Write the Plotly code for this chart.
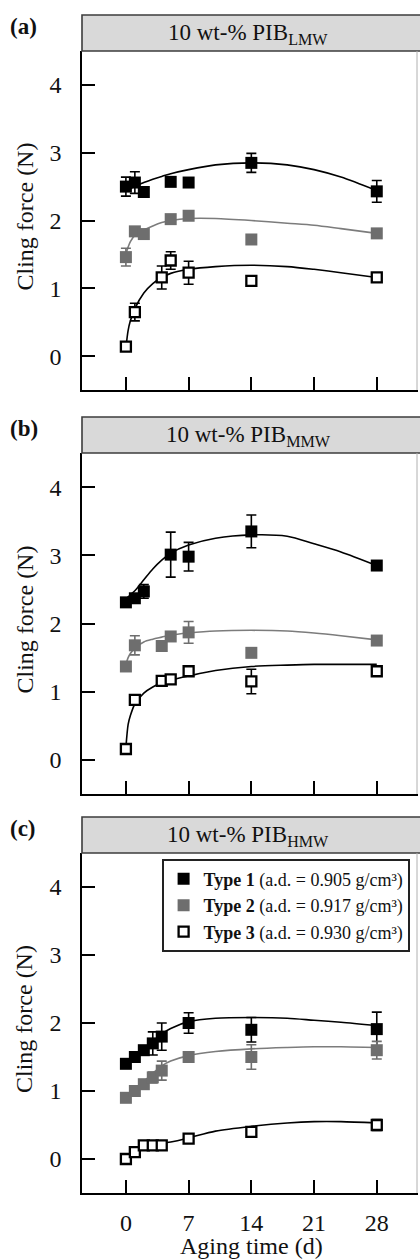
import plotly.graph_objects as go

FONT = "Liberation Serif, Times New Roman, Times, serif"
W, H = 420, 1260

# ---- data -----------------------------------------------------------------
X_TICKS = [0, 7, 14, 21, 28]
Y_TICKS = [0, 1, 2, 3, 4]
PANEL_LABELS = ["(a)", "(b)", "(c)"]
HEADERS = ["10 wt-% PIB<sub>LMW</sub>", "10 wt-% PIB<sub>MMW</sub>", "10 wt-% PIB<sub>HMW</sub>"]
TYPE_NAMES = [
    "<b>Type 1</b> (a.d. = 0.905 g/cm³)",
    "<b>Type 2</b> (a.d. = 0.917 g/cm³)",
    "<b>Type 3</b> (a.d. = 0.930 g/cm³)",
]

# panel (a): PIB LMW
A_T1_X = [0, 1, 2, 5, 7, 14, 28]
A_T1_Y = [2.50, 2.56, 2.42, 2.57, 2.56, 2.85, 2.43]
A_T1_E = [0.14, 0.16, 0.05, 0.05, 0.05, 0.14, 0.16]
A_T2_X = [0, 1, 2, 5, 7, 14, 28]
A_T2_Y = [1.46, 1.84, 1.80, 2.02, 2.07, 1.72, 1.81]
A_T2_E = [0.13, 0.05, 0.05, 0.05, 0.05, 0.05, 0.05]
A_T3_X = [0, 1, 4, 5, 7, 14, 28]
A_T3_Y = [0.14, 0.65, 1.16, 1.41, 1.23, 1.11, 1.16]
A_T3_E = [0.05, 0.13, 0.17, 0.13, 0.17, 0.04, 0.05]

# panel (b): PIB MMW
B_T1_X = [0, 1, 2, 5, 7, 14, 28]
B_T1_Y = [2.31, 2.37, 2.47, 3.01, 2.98, 3.35, 2.85]
B_T1_E = [0.05, 0.05, 0.10, 0.33, 0.21, 0.24, 0.07]
B_T2_X = [0, 1, 4, 5, 7, 14, 28]
B_T2_Y = [1.37, 1.68, 1.67, 1.81, 1.87, 1.57, 1.75]
B_T2_E = [0.05, 0.14, 0.05, 0.05, 0.16, 0.05, 0.05]
B_T3_X = [0, 1, 4, 5, 7, 14, 28]
B_T3_Y = [0.16, 0.88, 1.16, 1.18, 1.30, 1.15, 1.30]
B_T3_E = [0.04, 0.04, 0.04, 0.04, 0.05, 0.18, 0.04]

# panel (c): PIB HMW
C_T1_X = [0, 1, 2, 3, 4, 7, 14, 28]
C_T1_Y = [1.40, 1.50, 1.60, 1.70, 1.80, 2.00, 1.90, 1.91]
C_T1_E = [0.04, 0.05, 0.05, 0.17, 0.20, 0.15, 0.18, 0.25]
C_T2_X = [0, 1, 2, 3, 4, 7, 14, 28]
C_T2_Y = [0.90, 1.00, 1.10, 1.20, 1.30, 1.50, 1.50, 1.60]
C_T2_E = [0.04, 0.04, 0.04, 0.08, 0.14, 0.05, 0.18, 0.13]
C_T3_X = [0, 1, 2, 3, 4, 7, 14, 28]
C_T3_Y = [0.00, 0.10, 0.20, 0.20, 0.20, 0.30, 0.40, 0.50]
C_T3_E = [0.04, 0.04, 0.03, 0.03, 0.03, 0.05, 0.06, 0.08]

# fitted trend curves, sampled at FIT_X
FIT_X = [0, 0.25, 0.5, 1, 2, 3, 4, 5, 7, 10, 14, 18, 21, 24, 28]
A_T1_FIT = [2.44, 2.46, 2.47, 2.50, 2.56, 2.61, 2.65, 2.69, 2.75, 2.82, 2.85, 2.82, 2.75, 2.64, 2.44]
A_T2_FIT = [1.50, 1.61, 1.69, 1.78, 1.86, 1.92, 1.97, 2.00, 2.03, 2.03, 2.00, 1.96, 1.93, 1.88, 1.81]
A_T3_FIT = [0.12, 0.38, 0.52, 0.70, 0.93, 1.07, 1.16, 1.22, 1.28, 1.32, 1.34, 1.32, 1.28, 1.23, 1.16]
B_T1_FIT = [2.36, 2.39, 2.42, 2.48, 2.64, 2.80, 2.93, 3.03, 3.15, 3.25, 3.30, 3.28, 3.17, 3.05, 2.85]
B_T2_FIT = [1.40, 1.50, 1.56, 1.64, 1.73, 1.77, 1.80, 1.83, 1.86, 1.89, 1.90, 1.89, 1.86, 1.82, 1.76]
B_T3_FIT = [0.18, 0.52, 0.65, 0.82, 0.98, 1.07, 1.13, 1.17, 1.23, 1.31, 1.37, 1.39, 1.40, 1.40, 1.40]
C_T1_FIT = [1.40, 1.43, 1.45, 1.51, 1.62, 1.73, 1.84, 1.92, 2.02, 2.07, 2.08, 2.07, 2.04, 2.01, 1.96]
C_T2_FIT = [0.90, 0.93, 0.96, 1.02, 1.14, 1.26, 1.37, 1.44, 1.52, 1.58, 1.62, 1.64, 1.65, 1.65, 1.64]
C_T3_FIT = [0.00, 0.03, 0.05, 0.10, 0.16, 0.20, 0.23, 0.25, 0.31, 0.41, 0.48, 0.53, 0.55, 0.55, 0.53]

PANEL_DATA = [
    [(A_T1_X, A_T1_Y, A_T1_E, A_T1_FIT), (A_T2_X, A_T2_Y, A_T2_E, A_T2_FIT), (A_T3_X, A_T3_Y, A_T3_E, A_T3_FIT)],
    [(B_T1_X, B_T1_Y, B_T1_E, B_T1_FIT), (B_T2_X, B_T2_Y, B_T2_E, B_T2_FIT), (B_T3_X, B_T3_Y, B_T3_E, B_T3_FIT)],
    [(C_T1_X, C_T1_Y, C_T1_E, C_T1_FIT), (C_T2_X, C_T2_Y, C_T2_E, C_T2_FIT), (C_T3_X, C_T3_Y, C_T3_E, C_T3_FIT)],
]

# ---- styling --------------------------------------------------------------
GRAY = "#6e6e6e"
GRAY_LINE = "#7c7c7c"
TYPE_STYLE = [
    dict(marker=dict(symbol="square", size=12, color="black", line=dict(width=0)),
         err="black", line="black"),
    dict(marker=dict(symbol="square", size=12, color=GRAY, line=dict(width=0)),
         err=GRAY, line=GRAY_LINE),
    dict(marker=dict(symbol="square", size=10, color="white", line=dict(width=2.3, color="black")),
         err="black", line="black"),
]

# pixel layout of the three stacked panels (header top, header bottom, plot bottom)
PANEL_PX = [(15, 51, 390), (417, 453, 794), (817, 853, 1193)]
X_LEFT_PX, X_RIGHT_PX = 82, 418


def py(v):
    return 1 - v / H


def px(v):
    return v / W


fig = go.Figure()

for p, series in enumerate(PANEL_DATA):
    sfx = "" if p == 0 else str(p + 1)
    for t, (xs, ys, es, fit) in enumerate(series):
        st = TYPE_STYLE[t]
        fig.add_trace(go.Scatter(
            x=FIT_X, y=fit, mode="lines", line=dict(color=st["line"], width=1.6, shape="spline", smoothing=0.8),
            xaxis="x" + sfx, yaxis="y" + sfx, showlegend=False, hoverinfo="skip"))
    for t, (xs, ys, es, fit) in enumerate(series):
        st = TYPE_STYLE[t]
        fig.add_trace(go.Scatter(
            x=xs, y=ys, mode="markers", marker=st["marker"],
            error_y=dict(type="data", array=es, visible=True, color=st["err"], thickness=1.6, width=5),
            xaxis="x" + sfx, yaxis="y" + sfx,
            name=TYPE_NAMES[t], showlegend=(p == 2)))

axis_common = dict(
    showline=True, linecolor="black", linewidth=1.5,
    ticks="inside", ticklen=13, tickwidth=1.5, tickcolor="black",
    showgrid=False, zeroline=False,
    tickfont=dict(family=FONT, size=24, color="#111"),
)

annotations = []
shapes = []
for p, (htop, hbot, pbot) in enumerate(PANEL_PX):
    sfx = "" if p == 0 else str(p + 1)
    xkey = "xaxis" + sfx
    ykey = "yaxis" + sfx
    fig.layout[xkey] = dict(
        axis_common, domain=[px(X_LEFT_PX), px(X_RIGHT_PX)], range=[-4.9, 32.6],
        tickvals=X_TICKS, showticklabels=(p == 2), anchor="y" + sfx,
        ticklabelstandoff=7,
    )
    fig.layout[ykey] = dict(
        axis_common, domain=[py(pbot), py(hbot)], range=[-0.5, 4.5],
        tickvals=Y_TICKS, anchor="x" + sfx, ticklabelstandoff=14,
    )
    # strip header
    shapes.append(dict(type="rect", xref="paper", yref="paper",
                       x0=px(X_LEFT_PX), x1=1.02, y0=py(hbot), y1=py(htop),
                       fillcolor="#d9d9d9", line=dict(color="#3c3c3c", width=1.6), layer="above"))
    # faint right edge of the frame
    shapes.append(dict(type="line", xref="paper", yref="paper",
                       x0=px(X_RIGHT_PX - 1), x1=px(X_RIGHT_PX - 1), y0=py(pbot), y1=py(hbot),
                       line=dict(color="#b0b0b0", width=1)))
    annotations.append(dict(text=HEADERS[p], xref="paper", yref="paper",
                            x=px(248), y=py((htop + hbot) / 2 + 1), xanchor="center", yanchor="middle",
                            showarrow=False, font=dict(family=FONT, size=23, color="#111")))
    annotations.append(dict(text="<b>" + PANEL_LABELS[p] + "</b>", xref="paper", yref="paper",
                            x=px(8), y=py(htop + 11), xanchor="left", yanchor="middle",
                            showarrow=False, font=dict(family=FONT, size=23, color="#111")))
    annotations.append(dict(text="Cling force (N)", xref="paper", yref="paper",
                            x=px(24), y=py((hbot + pbot) / 2 - 4), xanchor="center", yanchor="middle",
                            textangle=-90, showarrow=False, font=dict(family=FONT, size=24, color="#111")))

annotations.append(dict(text="Aging time (d)", xref="paper", yref="paper",
                        x=px(251), y=py(1246), xanchor="center", yanchor="middle",
                        showarrow=False, font=dict(family=FONT, size=24, color="#111")))

fig.update_layout(
    width=W, height=H, margin=dict(l=0, r=0, t=0, b=0),
    paper_bgcolor="white", plot_bgcolor="white",
    shapes=shapes, annotations=annotations,
    legend=dict(x=px(162), y=py(859), xanchor="left", yanchor="top",
                bgcolor="white", bordercolor="#222", borderwidth=1.6,
                font=dict(family=FONT, size=18, color="#111")),
)

fig.write_html("out.html")
